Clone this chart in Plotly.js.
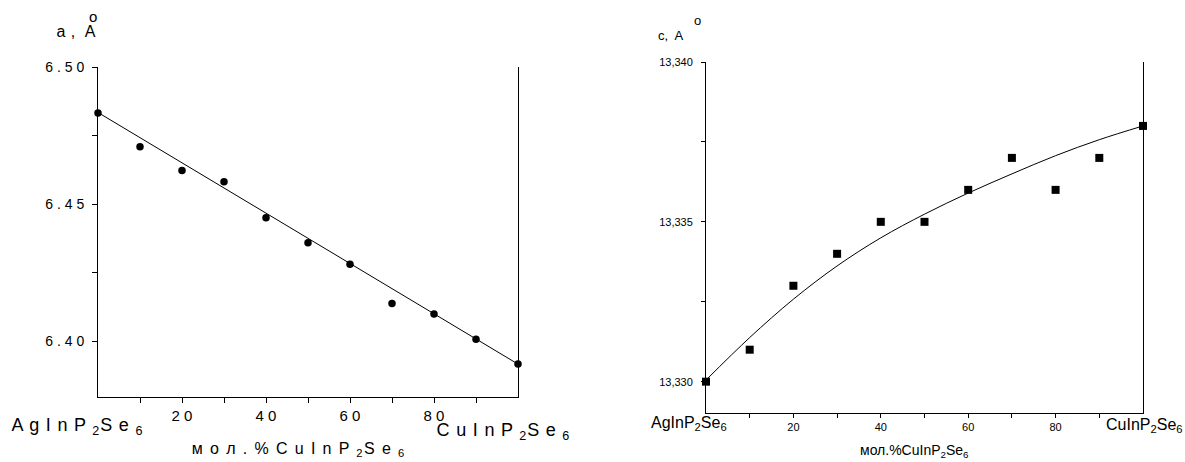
<!DOCTYPE html>
<html>
<head>
<meta charset="utf-8">
<script src="https://cdn.plot.ly/plotly-3.0.1.min.js"></script>
<style>html,body{margin:0;padding:0;background:#fff;}#chart{width:1185px;height:462px;}</style>
</head>
<body>
<div id="chart"></div>
<script>
// ---- data ----
const compX = [0, 10, 20, 30, 40, 50, 60, 70, 80, 90, 100];
const aValues = [6.4832, 6.4709, 6.4622, 6.4581, 6.4450, 6.4359, 6.4280, 6.4137, 6.4099, 6.4007, 6.3916];
const aFitX = [0, 100];
const aFitY = [6.4834, 6.3916];
const cValues = [13.3300, 13.3310, 13.3330, 13.3340, 13.3350, 13.3350, 13.3360, 13.3370, 13.3360, 13.3370, 13.3380];
const cFitX = [0, 10, 20, 30, 40, 50, 60, 70, 80, 90, 100];
const cFitY = [13.33005, 13.33138, 13.33258, 13.33362, 13.33450, 13.33524, 13.33590, 13.33650, 13.33707, 13.33757, 13.33800];
const xTickVals = [10, 20, 30, 40, 50, 60, 70, 80, 90];
const xTickTextA = ['', '2 0', '', '4 0', '', '6 0', '', '8 0', ''];
const xTickTextC = ['', '20', '', '40', '', '60', '', '80', ''];
const aTickVals = [6.40, 6.425, 6.45, 6.475, 6.50];
const aTickText = ['6 . 4 0', '', '6 . 4 5', '', '6 . 5 0'];
const cTickVals = [13.330, 13.3325, 13.335, 13.3375, 13.340];
const cTickText = ['13,330', '', '13,335', '', '13,340'];

const W = 1185, H = 462;
const px = x => x / W;
const py = y => 1 - y / H;
const FONT = 'Arial, "Liberation Sans", sans-serif';

const traces = [
  {x: aFitX, y: aFitY, mode: 'lines', line: {color: '#000', width: 1}, xaxis: 'x', yaxis: 'y', hoverinfo: 'skip'},
  {x: compX, y: aValues, mode: 'markers', marker: {symbol: 'circle', size: 7.5, color: '#000'}, cliponaxis: false, xaxis: 'x', yaxis: 'y'},
  {x: cFitX, y: cFitY, mode: 'lines', line: {color: '#000', width: 1, shape: 'spline', smoothing: 1}, xaxis: 'x2', yaxis: 'y2', hoverinfo: 'skip'},
  {x: compX, y: cValues, mode: 'markers', marker: {symbol: 'square', size: 8, color: '#000'}, cliponaxis: false, xaxis: 'x2', yaxis: 'y2'}
];

const axCommon = {showgrid: false, zeroline: false, showline: true, linecolor: '#000', linewidth: 1,
  ticks: 'outside', tickcolor: '#000', tickwidth: 1, tickmode: 'array'};

function ann(text, x, y, size) {
  return {text: text, x: px(x), y: py(y), xref: 'paper', yref: 'paper', xanchor: 'center', yanchor: 'middle',
    showarrow: false, font: {size: size, family: FONT, color: '#000'}};
}

const layout = {
  width: W, height: H,
  margin: {l: 0, r: 0, t: 0, b: 0},
  paper_bgcolor: '#fff', plot_bgcolor: '#fff',
  showlegend: false,
  font: {family: FONT, color: '#000'},
  xaxis: Object.assign({}, axCommon, {domain: [px(98), px(518)], range: [0, 100], anchor: 'y',
    tickvals: xTickVals, ticktext: xTickTextA, ticklen: 5, tickfont: {size: 15, family: FONT}}),
  yaxis: Object.assign({}, axCommon, {domain: [py(397), py(67)], range: [6.3796, 6.50], anchor: 'x', mirror: true,
    tickvals: aTickVals, ticktext: aTickText, ticklen: 5, ticklabelstandoff: 5, tickfont: {size: 14, family: FONT}}),
  xaxis2: Object.assign({}, axCommon, {domain: [px(706), px(1143)], range: [0, 100], anchor: 'y2',
    tickvals: xTickVals, ticktext: xTickTextC, ticklen: 4, tickfont: {size: 11, family: FONT}}),
  yaxis2: Object.assign({}, axCommon, {domain: [py(413), py(62)], range: [13.32902, 13.340], anchor: 'x2', mirror: true,
    tickvals: cTickVals, ticktext: cTickText, ticklen: 4, ticklabelstandoff: 6, tickfont: {size: 11, family: FONT}}),
  annotations: [
    ann('a ,  A', 76, 31, 16),
    ann('o', 92.5, 16, 15),
    ann('A g I n P <sub>2</sub>S e <sub>6</sub>', 77, 426, 18),
    ann('C u I n P <sub>2</sub>S e <sub>6</sub>', 503, 431, 18),
    ann('м о л . % C u I n P <sub>2</sub>S e <sub>6</sub>', 298, 449, 16),
    ann('c,  A', 671, 35, 13),
    ann('o', 697, 21, 13),
    ann('AgInP<sub>2</sub>Se<sub>6</sub>', 689, 423, 16),
    ann('CuInP<sub>2</sub>Se<sub>6</sub>', 1144, 425, 16),
    ann('мол.%CuInP<sub>2</sub>Se<sub>6</sub>', 914, 451, 14)
  ]
};

// extra letter spacing for the widely spaced left-chart labels
const spacing = {0: 0.5, 2: 0.8, 3: 0.8, 4: 1.4};

Plotly.newPlot('chart', traces, layout, {staticPlot: true, displayModeBar: false}).then(function () {
  document.querySelectorAll('.annotation').forEach(function (g) {
    const idx = g.getAttribute('data-index');
    if (spacing[idx] !== undefined) {
      g.querySelectorAll('text').forEach(function (t) { t.style.letterSpacing = spacing[idx] + 'px'; });
    }
  });
});
</script>
</body>
</html>
